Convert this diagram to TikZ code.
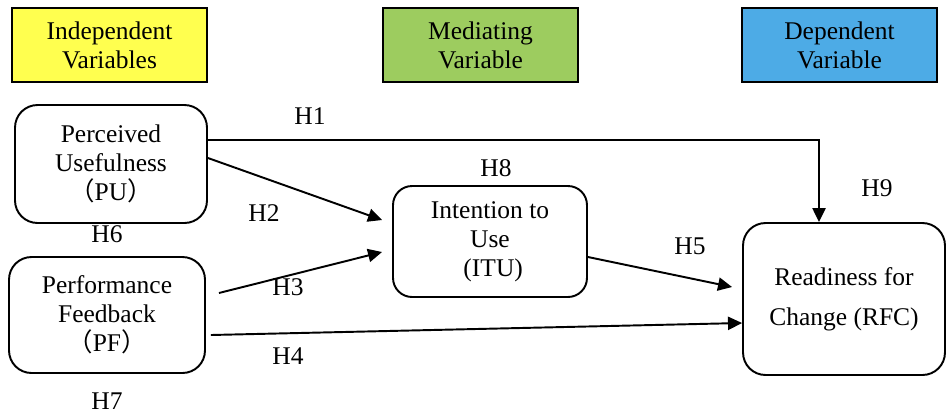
\documentclass[tikz,border=0pt]{standalone}
\usepackage{fontspec}
\setmainfont{Liberation Serif}
\newfontfamily\cjk{Noto Sans CJK SC}
\usetikzlibrary{arrows.meta}
\definecolor{IndYellow}{HTML}{FFFF4F}
\definecolor{MedGreen}{HTML}{9DCC5F}
\definecolor{DepBlue}{HTML}{4DABE6}

\begin{document}
\begin{tikzpicture}[x=0.02cm, y=-0.02cm,
    font=\rmfamily\fontsize{14.5}{16.5}\selectfont,
    hdr/.style={draw, line width=1.4pt, align=center, inner sep=0pt, minimum width=3.9cm, minimum height=1.48cm},
    var/.style={draw, line width=1.1pt, rounded corners=0.45cm, align=center, inner sep=0pt},
    arr/.style={-{Triangle[length=8pt,width=7.5pt]}, line width=1.1pt},
    lbl/.style={inner sep=1pt}]
                \useasboundingbox (0,0) rectangle (947,414);
                % header boxes
                \node[hdr, fill=IndYellow] (indep) at (109.5,45) {Independent\\Variables};
                \node[hdr, fill=MedGreen] (med) at (480.5,45) {Mediating\\Variable};
                \node[hdr, fill=DepBlue] (dep) at (839.5,45) {Dependent\\Variable};
                
                % variables
                \node[var, minimum width=3.84cm, minimum height=2.36cm] (PU) at (111,164) {Perceived\\Usefulness\\{\cjk （}PU{\cjk ）}};
                \node[var, minimum width=3.92cm, minimum height=2.32cm] (PF) at (107,315) {Performance\\Feedback\\{\cjk （}PF{\cjk ）}};
                \node[var, rounded corners=0.38cm, minimum width=3.88cm, minimum height=2.22cm] (ITU) at (490,241.5) {Intention to\\Use\\\ (ITU)};
                \node[var, minimum width=4.04cm, minimum height=3.04cm, font=\rmfamily\fontsize{14.5}{23}\selectfont] (RFC) at (844,299) {Readiness for\\Change (RFC)};
                
                \draw[arr] ([yshift=0.48cm]PU.east) -| ([xshift=-0.5cm]RFC.north);
                \draw[arr] ([yshift=0.12cm]PU.east) -- ([xshift=-0.2cm,yshift=0.43cm]ITU.west);
                \draw[arr] ([xshift=0.26cm,yshift=0.44cm]PF.east) -- ([xshift=-0.2cm,yshift=-0.21cm]ITU.west);
                \draw[arr] ([xshift=0.1cm,yshift=-0.4cm]PF.east) -- ([yshift=-0.48cm]RFC.west);
                \draw[arr] ([yshift=-0.31cm]ITU.east) -- ([xshift=-0.2cm,yshift=0.24cm]RFC.west);
                
                % hypotheses
                \node[lbl] (h1) at (310,116) {H1};
                \node[lbl] (h2) at (264,213) {H2};
                \node[lbl] (h3) at (288,287) {H3};
                \node[lbl] (h4) at (288,356) {H4};
                \node[lbl] (h5) at (690,246) {H5};
                \node[lbl] (h6) at (107,234) {H6};
                \node[lbl] (h7) at (107,401) {H7};
                \node[lbl] (h8) at (496,168) {H8};
                \node[lbl] (h9) at (877,188) {H9};
            \end{tikzpicture}
\end{document}
